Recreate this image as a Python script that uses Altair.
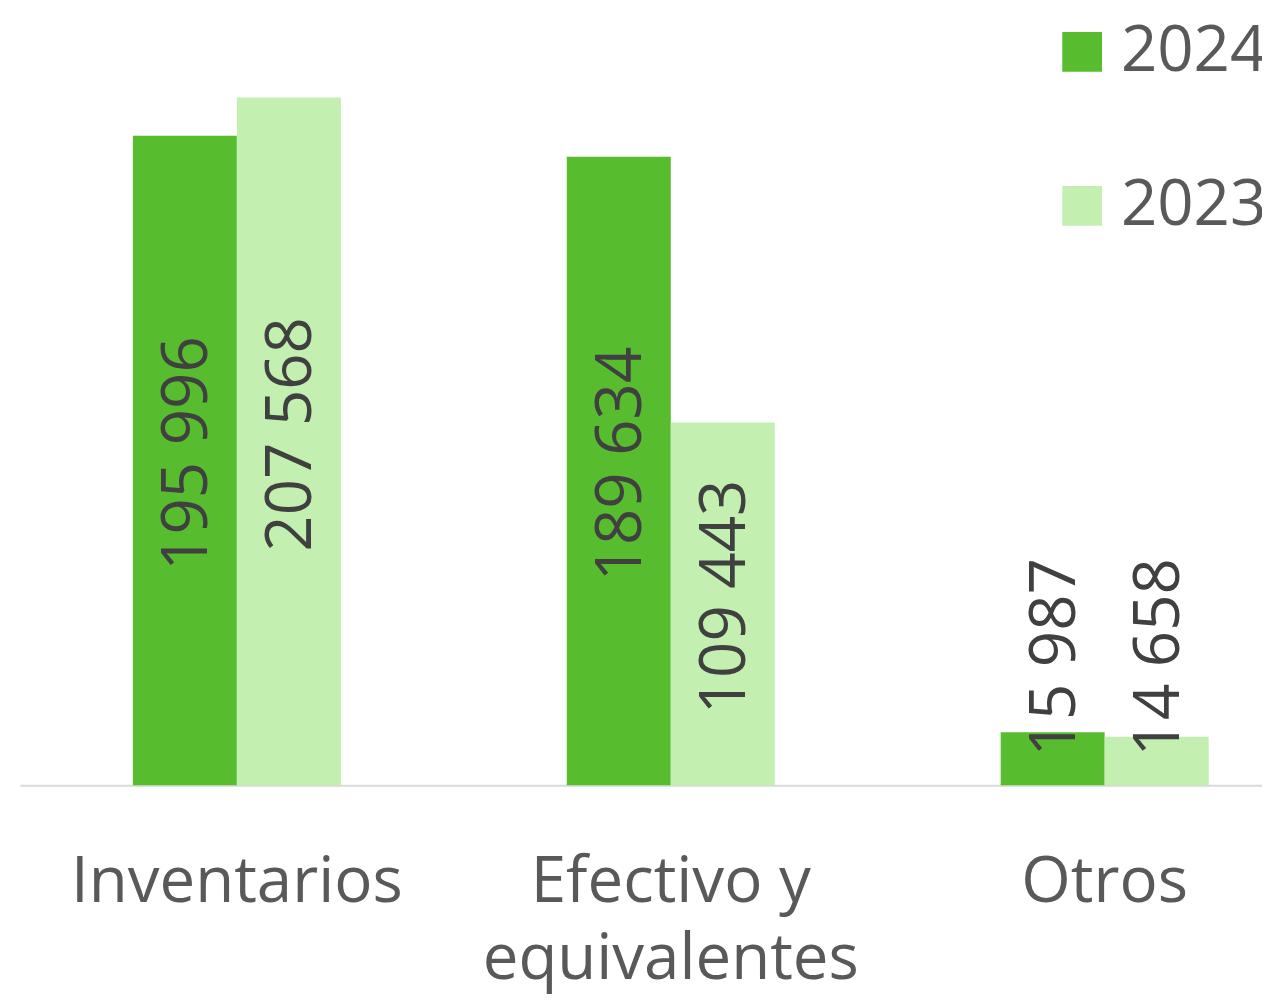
import altair as alt
import pandas as pd

categories = ["Inventarios", "Efectivo y\nequivalentes", "Otros"]
series = ["2024", "2023"]
values_2024 = [195996, 189634, 15987]
values_2023 = [207568, 109443, 14658]
colors = ["#57BD2F", "#C3EFB0"]

rows = []
for c, v in zip(categories, values_2024):
    rows.append({"cat": c, "serie": "2024", "value": v})
for c, v in zip(categories, values_2023):
    rows.append({"cat": c, "serie": "2023", "value": v})
df = pd.DataFrame(rows)
df["label"] = df["value"].map(lambda v: f"{v:,}".replace(",", " "))

FONT = "Open Sans"
FS = 64

x = alt.X(
    "cat:N",
    sort=categories,
    scale=alt.Scale(range=[0, 1310], paddingInner=0.5207, paddingOuter=0.26035),
    axis=alt.Axis(
        title=None,
        ticks=False,
        domainColor="#D9D9D9",
        domainWidth=2,
        labelFont=FONT,
        labelFontSize=FS,
        labelColor="#595959",
        labelAngle=0,
        labelPadding=66,
        labelLineHeight=78,
        labelLimit=1000,
        labelExpr="split(datum.label, '\\n')",
    ),
)
xoff = alt.XOffset(
    "serie:N",
    sort=series,
    scale=alt.Scale(paddingInner=0, paddingOuter=0),
)
yscale = alt.Scale(domain=[0, 230000], nice=False)

base = alt.Chart(df)

bars = base.mark_bar().encode(
    x=x,
    xOffset=xoff,
    y=alt.Y("value:Q", scale=yscale, axis=None),
    color=alt.Color(
        "serie:N",
        sort=series,
        scale=alt.Scale(domain=series, range=colors),
        legend=alt.Legend(
            title=None,
            orient="none",
            legendX=1037,
            legendY=-3,
            symbolType="square",
            symbolSize=1600,
            symbolStrokeWidth=0,
            symbolOpacity=1,
            labelFont=FONT,
            labelFontSize=FS,
            labelColor="#595959",
            labelOffset=7,
            labelLimit=400,
            rowPadding=91,
        ),
    ),
)

labels_big = base.transform_filter("datum.value > 50000").transform_calculate(
    pos="datum.value / 2"
).mark_text(
    angle=270, align="center", baseline="middle", font=FONT, fontSize=FS,
    color="#404040", dx=7, dy=3,
).encode(
    x=x,
    xOffset=xoff,
    y=alt.Y("pos:Q", scale=yscale, axis=None),
    text="label:N",
)

labels_small = base.transform_filter("datum.value <= 50000").transform_calculate(
    pos="8700"
).mark_text(
    angle=270, align="left", baseline="middle", font=FONT, fontSize=FS,
    color="#404040", dy=3,
).encode(
    x=x,
    xOffset=xoff,
    y=alt.Y("pos:Q", scale=yscale, axis=None),
    text="label:N",
)

chart = alt.layer(bars, labels_big, labels_small).properties(
    width=1250,
    height=767,
    autosize=alt.AutoSizeParams(type="none"),
    padding={"left": 12, "top": 12, "right": 0, "bottom": 213},
).configure_view(stroke=None)

chart.save("out.html", embed_options={"renderer": "svg", "actions": False})
